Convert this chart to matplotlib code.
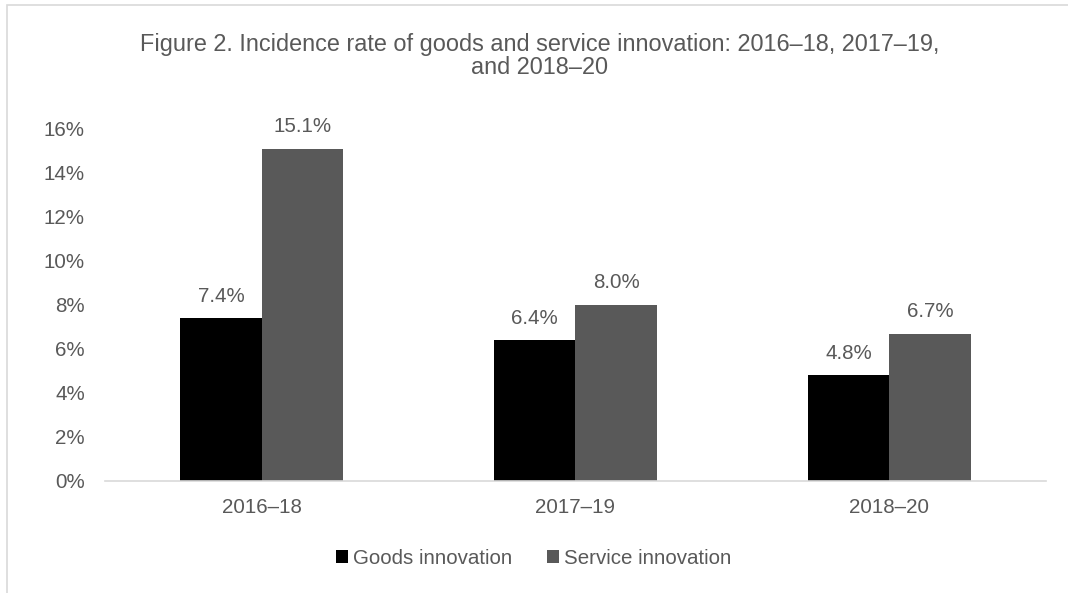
import numpy as np
import matplotlib.pyplot as plt
from matplotlib.patches import Rectangle

plt.rcParams['font.family'] = ['Liberation Sans', 'DejaVu Sans']

periods = ['2016–18', '2017–19', '2018–20']
goods = [7.4, 6.4, 4.8]
service = [15.1, 8.0, 6.7]
yticks = [0, 2, 4, 6, 8, 10, 12, 14, 16]

txt = '#595959'
fs = 14.8
fig = plt.figure(figsize=(10.68, 5.93), dpi=100)
ax = fig.add_axes([105/1068, 1 - 481/593, 941/1068, 352/593])

x = np.arange(len(periods))
w = 0.26
b1 = ax.bar(x - w/2, goods, w, color='black', label='Goods innovation')
b2 = ax.bar(x + w/2, service, w, color='#595959', label='Service innovation')

for bars, vals in [(b1, goods), (b2, service)]:
    for r, v in zip(bars, vals):
        ax.annotate(f'{v:.1f}%', (r.get_x() + r.get_width()/2, v),
                    xytext=(0, 9), textcoords='offset points',
                    ha='center', va='bottom', fontsize=fs, color=txt)

ax.set_xlim(-0.5, 2.5)
ax.set_ylim(0, 16)
ax.set_yticks(yticks)
ax.set_yticklabels([f'{t}%' for t in yticks])
ax.set_xticks(x)
ax.set_xticklabels(periods)
ax.tick_params(length=0, labelsize=fs, colors=txt)
ax.tick_params(axis='y', pad=14.5)
ax.tick_params(axis='x', pad=12)
for s in ['top', 'right', 'left']:
    ax.spines[s].set_visible(False)
ax.spines['bottom'].set_color('#d9d9d9')
ax.spines['bottom'].set_linewidth(1.2)

fig.text(0.505, 1 - 56/593, 'Figure 2. Incidence rate of goods and service innovation: 2016–18, 2017–19,\nand 2018–20',
         ha='center', va='center', fontsize=16.9, color=txt, linespacing=1.0)

fig.legend(handles=[b1, b2], loc='center', bbox_to_anchor=(0.5, 1 - 558/593),
           ncol=2, frameon=False, fontsize=fs, handlelength=0.58, handleheight=0.58,
           handletextpad=0.24, columnspacing=1.7, labelcolor=txt,
           borderpad=0, borderaxespad=0)

# light chart border
fig.add_artist(Rectangle((7/1068, -0.01), 1.1, 1 - 5/593 + 0.01, transform=fig.transFigure,
                         fill=False, edgecolor='#d9d9d9', linewidth=1.2))

fig.savefig('out.png', dpi=100)
